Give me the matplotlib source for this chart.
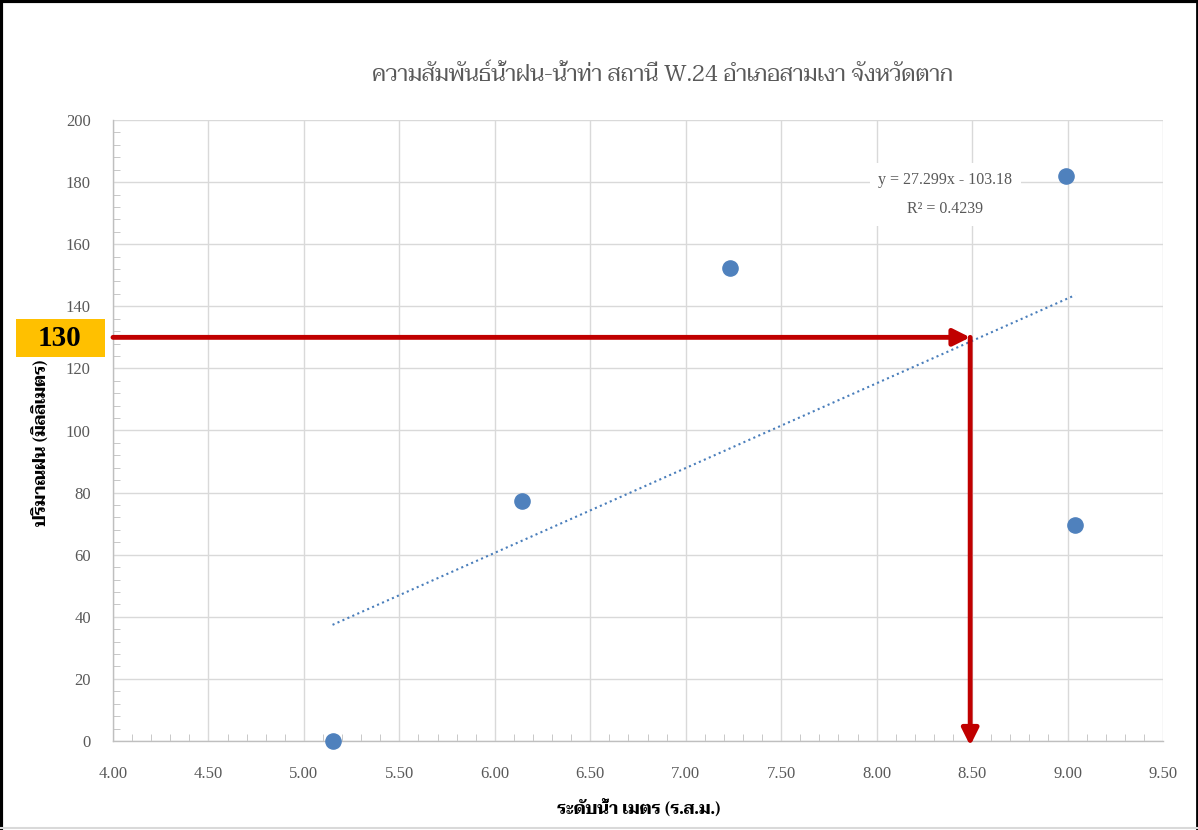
import matplotlib
matplotlib.use("Agg")
import matplotlib.pyplot as plt
from matplotlib import font_manager
from matplotlib.patches import Rectangle
import numpy as np

# ข้อมูล: ระดับน้ำ (ม. ร.ส.ม.) กับปริมาณฝน (มม.)
water_level = [5.15, 6.14, 7.23, 8.99, 9.04]
rainfall = [0.0, 77.3, 152.3, 182.0, 69.6]

slope = 27.299
intercept = -103.18
r_squared = 0.4239

target_rain = 130
target_level = 8.49

x_ticks = [4.00, 4.50, 5.00, 5.50, 6.00, 6.50, 7.00, 7.50, 8.00, 8.50, 9.00, 9.50]
y_ticks = [0, 20, 40, 60, 80, 100, 120, 140, 160, 180, 200]

title = "ความสัมพันธ์น้ำฝน-น้ำท่า สถานี W.24 อำเภอสามเงา จังหวัดตาก"
x_label = "ระดับน้ำ เมตร (ร.ส.ม.)"
y_label = "ปริมาณฝน (มิลลิเมตร)"


def pick_font(names):
    available = {f.name for f in font_manager.fontManager.ttflist}
    for n in names:
        if n in available:
            return n
    return "DejaVu Sans"


thai = pick_font(["Taviraj", "Noto Serif Thai", "Sarabun", "Noto Sans Thai"])
serif = pick_font(["Liberation Serif", "DejaVu Serif"])

W, H = 1198, 830
fig = plt.figure(figsize=(W / 100, H / 100), dpi=100)
ax = fig.add_axes([113 / W, 1 - 741 / H, (1163 - 113) / W, (741 - 120) / H])

ax.set_xlim(4.0, 9.5)
ax.set_ylim(0, 200)
ax.set_xticks(x_ticks)
ax.set_xticklabels(["%.2f" % v for v in x_ticks])
ax.set_yticks(y_ticks)
ax.set_xticks(np.arange(4.0, 9.51, 0.1), minor=True)
ax.set_yticks(np.arange(0, 201, 4), minor=True)
ax.grid(True, which="major", color="#d9d9d9", linewidth=1.0)
ax.set_axisbelow(True)
for s in ["top", "right"]:
    ax.spines[s].set_visible(False)
for s in ["left", "bottom"]:
    ax.spines[s].set_color("#bfbfbf")
    ax.spines[s].set_linewidth(1.0)
ax.tick_params(which="major", length=0, labelsize=12, labelcolor="#595959")
ax.tick_params(which="minor", direction="in", length=5, color="#bfbfbf")
ax.tick_params(axis="x", pad=18)
ax.tick_params(axis="y", pad=16)
for lab in ax.get_xticklabels() + ax.get_yticklabels():
    lab.set_fontfamily(serif)

# เส้นแนวโน้ม
tx = np.array([min(water_level), max(water_level)])
ax.plot(tx, slope * tx + intercept, linestyle=(0, (1, 1.6)), color="#4a7ebb", linewidth=1.5)

ax.scatter(water_level, rainfall, s=120, color="#4f81bd", zorder=5, clip_on=False)

ax.text(8.36, 176, "y = %.3fx - %.2f\n\nR² = %.4f" % (slope, -intercept, r_squared),
        ha="center", va="center", fontsize=11.5, color="#595959", family=serif,
        linespacing=0.9, bbox=dict(facecolor="white", edgecolor="none", pad=6))

# ลูกศรสีแดง
red = "#c00000"
ax.annotate("", xy=(target_level, target_rain), xytext=(4.0, target_rain),
            arrowprops=dict(arrowstyle="-|>,head_length=1.0,head_width=0.5",
                            color=red, lw=3.5, shrinkA=0, shrinkB=0), zorder=6)
ax.annotate("", xy=(target_level, -1.5), xytext=(target_level, target_rain),
            arrowprops=dict(arrowstyle="-|>,head_length=1.0,head_width=0.5",
                            color=red, lw=3.5, shrinkA=0, shrinkB=0), zorder=6,
            annotation_clip=False)

# กล่องสีเหลือง
fig.patches.append(Rectangle((16 / W, 1 - 357 / H), 89 / W, 38 / H, transform=fig.transFigure,
                             facecolor="#ffc000", edgecolor="none"))
fig.text(60 / W, 1 - 338 / H, str(target_rain), ha="center", va="center", fontsize=21,
         fontweight="bold", family=serif, color="black")

fig.text(662 / W, 1 - 75 / H, title, ha="center", va="center", fontsize=16,
         color="#595959", family=[thai, serif])
fig.text(639 / W, 1 - 808 / H, x_label, ha="center", va="center", fontsize=12,
         fontweight="bold", family=[thai, serif])
fig.text(40 / W, 1 - 443 / H, y_label, ha="center", va="center", fontsize=12,
         fontweight="bold", rotation=90, family=[thai, serif])

# กรอบรูป
fig.add_artist(plt.Line2D([1 / W, 1 / W], [0, 1], color="black", lw=3, transform=fig.transFigure))
fig.add_artist(plt.Line2D([0, 1], [1 - 1 / H, 1 - 1 / H], color="black", lw=3, transform=fig.transFigure))
fig.add_artist(plt.Line2D([1 - 1 / W, 1 - 1 / W], [0, 1], color="black", lw=2, transform=fig.transFigure))
fig.add_artist(plt.Line2D([0, 1], [2 / H, 2 / H], color="#d9d9d9", lw=1.5, transform=fig.transFigure))

fig.savefig("out.png", dpi=100)
